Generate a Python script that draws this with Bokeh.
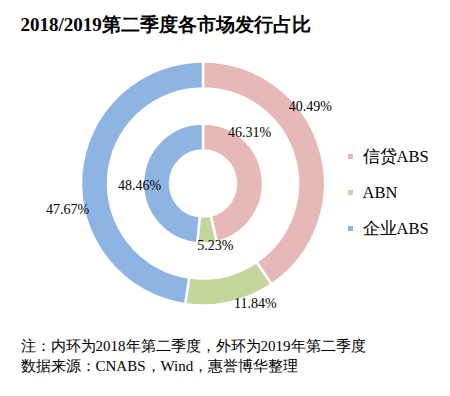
import math
from bokeh.plotting import figure
from bokeh.models import ColumnDataSource, Range1d
from bokeh.core.properties import value
from bokeh.embed import file_html
from bokeh.resources import INLINE

# ---- data ----
categories = ["信贷ABS", "ABN", "企业ABS"]
share_2018 = [46.31, 5.23, 48.46]   # inner ring
share_2019 = [40.49, 11.84, 47.67]  # outer ring
colors = ["#E6B9B8", "#C3D69B", "#8EB4E3"]
title_text = "2018/2019第二季度各市场发行占比"
note_lines = ["注：内环为2018年第二季度，外环为2019年第二季度",
              "数据来源：CNABS，Wind，惠誉博华整理"]

# ---- layout (pixel-based data space) ----
W, H = 434, 380
cx, cy = 202.5, 197
rings = [  # (values, inner r, outer r, label angles deg, label radii)
    (share_2018, 33, 60, [47.6, -78.6, 181.8], [69, 63, 63.5]),
    (share_2019, 95, 122, [35.6, -66.4, 190.9], [132, 131, 138]),
]
FONT = "Liberation Serif"

p = figure(width=W, height=H, output_backend="svg", toolbar_location=None,
           x_range=Range1d(0, W), y_range=Range1d(0, H), min_border=0)
p.axis.visible = False
p.grid.visible = False
p.outline_line_color = None
p.background_fill_color = "white"

for vals, r_in, r_out, l_ang, l_rad in rings:
    total = sum(vals)
    starts, ends, cum = [], [], 0.0
    for v in vals:
        starts.append(math.pi / 2 - 2 * math.pi * cum / total)
        cum += v
        ends.append(math.pi / 2 - 2 * math.pi * cum / total)
    src = ColumnDataSource(dict(start=starts, end=ends, color=colors))
    p.annular_wedge(x=cx, y=cy, inner_radius=r_in, outer_radius=r_out,
                    start_angle="start", end_angle="end", direction="clock",
                    fill_color="color", line_color="white", line_width=2.5,
                    source=src)
    lx = [cx + r * math.cos(math.radians(a)) for a, r in zip(l_ang, l_rad)]
    ly = [cy + r * math.sin(math.radians(a)) for a, r in zip(l_ang, l_rad)]
    labels = ["%.2f%%" % v for v in vals]
    p.text(x=lx, y=ly, text=labels, text_font=value(FONT), text_font_size="14px",
           text_align="center", text_baseline="middle", text_color="black")

# legend
leg_y = [224, 188, 152]
p.scatter(x=[350] * 3, y=leg_y, marker="square", size=5, color=colors, line_color=None)
p.text(x=[362] * 3, y=leg_y, text=categories, text_font=value(FONT),
       text_font_size="16.5px", text_align="left", text_baseline="middle",
       text_color="black")

# title
p.text(x=[20], y=[356], text=[title_text], text_font=value(FONT),
       text_font_size="19px", text_font_style="bold", text_align="left",
       text_baseline="middle", text_color="black")

# notes
p.text(x=[20, 20], y=[35, 15], text=note_lines, text_font=value(FONT),
       text_font_size="15px", text_align="left", text_baseline="middle",
       text_color="black")

open("out.html", "w").write(file_html(p, INLINE))
